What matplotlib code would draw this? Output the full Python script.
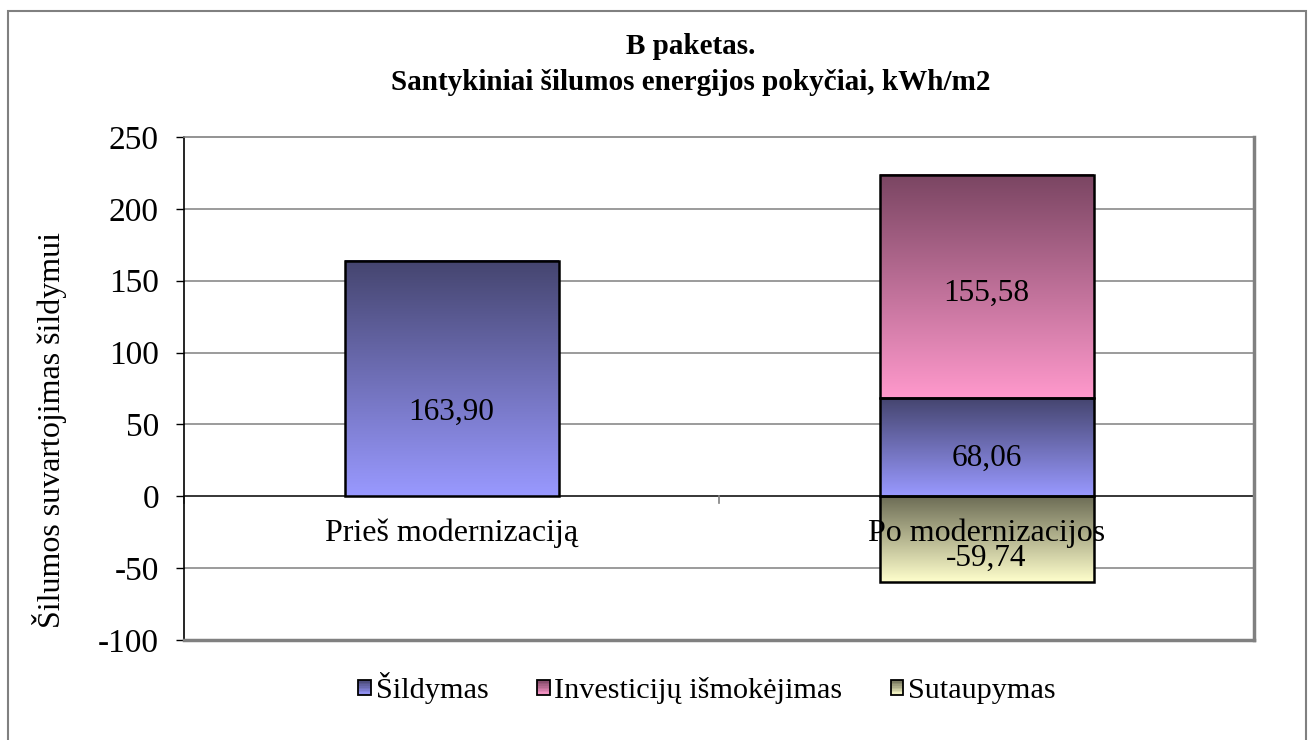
import matplotlib.pyplot as plt
import numpy as np
from matplotlib.colors import to_rgb
from matplotlib.patches import Patch, Rectangle

plt.rcParams['font.family'] = ['Liberation Serif', 'DejaVu Serif']
plt.rcParams['axes.unicode_minus'] = False

# data
categories = ["Prieš modernizaciją", "Po modernizacijos"]
series_names = ["Šildymas", "Investicijų išmokėjimas", "Sutaupymas"]
sildymas = [163.90, 68.06]
investicijos = [0.0, 155.58]
sutaupymas = [0.0, -59.74]
y_ticks = [-100, -50, 0, 50, 100, 150, 200, 250]

# style: light (bottom) and dark (top) colours for gradients
light = ["#9999ff", "#ff99cc", "#ffffcc"]
dark = ["#45456f", "#7a4562", "#6c6c55"]


def gradient(c_light, c_dark, n=256):
    a = np.array(to_rgb(c_light))
    b = np.array(to_rgb(c_dark))
    t = np.linspace(0, 1, n)[:, None]
    return (a + (b - a) * t)[:, None, :]


class GradHandler:
    def __init__(self, c_light, c_dark):
        self.c_light = c_light
        self.c_dark = c_dark

    def legend_artist(self, legend, orig_handle, fontsize, handlebox):
        w, h = handlebox.width, handlebox.height
        x0, y0 = handlebox.xdescent, handlebox.ydescent + h * 0.35
        tr = handlebox.get_transform()
        g = gradient(self.c_light, self.c_dark, 10)[:, 0, :]
        for i, c in enumerate(g):
            handlebox.add_artist(Rectangle((x0, y0 + i * h / 10), w, h / 10,
                                           facecolor=c, edgecolor='none', transform=tr))
        border = Rectangle((x0, y0), w, h, fill=False, edgecolor='black', lw=1.3, transform=tr)
        handlebox.add_artist(border)
        return border


fig = plt.figure(figsize=(13.1, 7.4), dpi=100)
ax = fig.add_axes([184 / 1310, 1 - 640 / 740, 1070 / 1310, 503 / 740])

x = np.arange(len(categories))
width = 0.4

stacks = [
    (sildymas, np.zeros(len(x))),
    (investicijos, np.array(sildymas)),
    (sutaupymas, np.zeros(len(x))),
]
label_offsets = [[-34, -11], [0, -7], [0, -19]]  # px shift of value labels

for s, (vals, bottoms) in enumerate(stacks):
    for i in range(len(x)):
        v = vals[i]
        if v == 0:
            continue
        b = bottoms[i]
        lo, hi = min(b, b + v), max(b, b + v)
        ax.imshow(gradient(light[s], dark[s]), extent=[x[i] - width / 2, x[i] + width / 2, lo, hi],
                  origin='lower', aspect='auto', interpolation='bilinear', zorder=2)
        ax.bar(x[i], v, width, bottom=b, facecolor='none', edgecolor='black', lw=1.8, zorder=3)
        ax.annotate(f"{v:.2f}".replace('.', ','), (x[i], (lo + hi) / 2),
                    xytext=(0, label_offsets[s][i] * 0.72), textcoords='offset points',
                    ha='center', va='center', fontsize=22.5, zorder=5)

ax.set_xlim(-0.5, len(categories) - 0.5)
ax.set_ylim(y_ticks[0], y_ticks[-1])
ax.set_yticks(y_ticks)
ax.set_yticklabels([str(t) for t in y_ticks], fontsize=24)
ax.tick_params(axis='y', direction='out', length=6, width=1, pad=12)
ax.set_xticks([])

for t in y_ticks[1:-1]:
    ax.axhline(t, color='black' if t == 0 else '#808080', lw=1.1, zorder=1)

# category axis ticks between categories, hanging below zero line
for b in np.arange(-0.5, len(categories)):
    ax.plot([b, b], [0, -5], color='#808080', lw=1.2, zorder=1, clip_on=False)

for i, c in enumerate(categories):
    ax.annotate(c, (x[i], 0), xytext=(0, -37 * 0.72), textcoords='offset points',
                ha='center', va='center', fontsize=23, zorder=4)

for side in ['top', 'right', 'bottom']:
    ax.spines[side].set_color('#808080')
ax.spines['top'].set_linewidth(1.2)
ax.spines['right'].set_linewidth(2.5)
ax.spines['bottom'].set_linewidth(2.5)
ax.spines['left'].set_color('black')
ax.spines['left'].set_linewidth(1.2)

fig.text(50 / 1310, 1 - 430 / 740, "Šilumos suvartojimas šildymui", rotation=90,
         ha='center', va='center', fontsize=23)
fig.text(691 / 1310, 1 - 47 / 740, "B paketas.", ha='center', va='center',
         fontsize=21, fontweight='bold')
fig.text(691 / 1310, 1 - 82 / 740, "Santykiniai šilumos energijos pokyčiai, kWh/m2",
         ha='center', va='center', fontsize=21, fontweight='bold')

handles = [Patch(label=n) for n in series_names]
hmap = {h: GradHandler(light[k], dark[k]) for k, h in enumerate(handles)}
fig.legend(handles=handles, handler_map=hmap, loc='center', bbox_to_anchor=(707 / 1310, 1 - 688 / 740),
           ncol=3, frameon=False, fontsize=21.8, handlelength=0.42, handleheight=0.42,
           handletextpad=0.15, columnspacing=1.6)

# outer chart frame
fig.add_artist(Rectangle((8 / 1310, -0.05), 1298 / 1310, 1.05 - 11 / 740, transform=fig.transFigure,
                         fill=False, edgecolor='#808080', lw=1.5))

fig.savefig("out.png", dpi=100)
